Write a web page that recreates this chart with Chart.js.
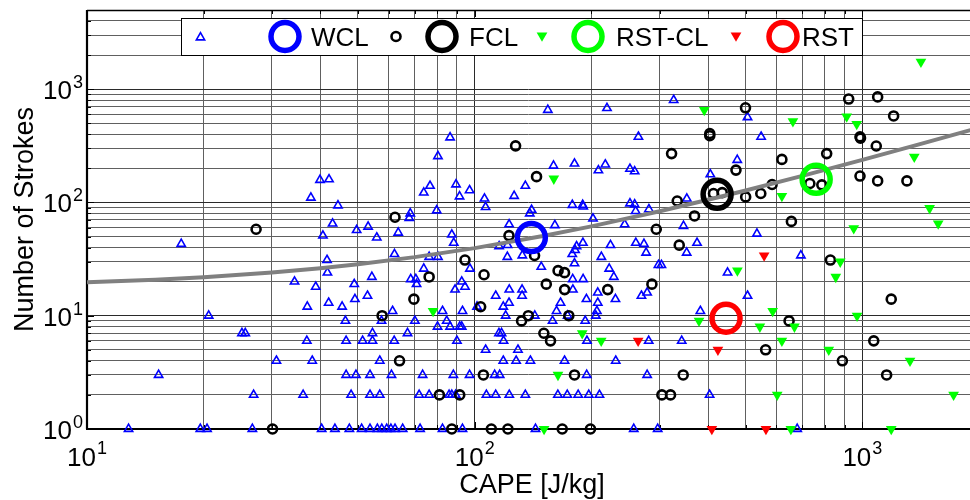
<!DOCTYPE html>
<html>
<head>
<meta charset="utf-8">
<script src="https://cdn.jsdelivr.net/npm/chart.js@4.4.1/dist/chart.umd.min.js"></script>
<style>
  html, body { margin: 0; padding: 0; background: #ffffff; overflow: hidden; }
  canvas { display: block; }
</style>
</head>
<body>
<canvas id="c" width="970" height="500"></canvas>
<script>
// ---- Individual storms: CAPE [J/kg] and number of strokes ----
const wclCape = [
  12.8, 15.3, 17.5, 19.6, 20.4, 20.6, 25.1, 25.6, 26.7, 26.9,
  30.8, 36.1, 38.1, 36.9, 37.0, 34.3, 38.9, 41.7, 41.6, 42.0,
  40.3, 43.6, 47.5, 45.5, 46.4, 46.6, 46.6, 48.0, 37.8, 39.9,
  42.1, 44.4, 43.0, 40.6, 86.4, 80.4, 76.7, 73.9, 89.5, 97.0,
  91.4, 106, 106.7, 68.2, 67.8, 79.8, 49.6, 53.1, 55.9, 63.5,
  62.1, 87.3, 88.3, 76.3, 80.4, 73.9, 97.2, 115.6, 54.3, 48.9,
  68.4, 70.5, 70.8, 92.6, 94.4, 89.0, 113.3, 52.9, 49.1, 61.4,
  82.6, 93.0, 101.4, 57.5, 70.1, 84.7, 80.2, 86.4, 91.5, 92.6,
  54.5, 67.1, 51.4, 54.5, 62.0, 90.0, 115.5, 106.7, 56.9, 49.4,
  53.7, 61.0, 73.4, 88.1, 97.0, 112.6, 116.0, 53.7, 56.9, 71.9,
  76.3, 85.9, 87.3, 89.3, 107.2, 113.3, 51.1, 53.7, 56.1, 57.6,
  59.3, 60.8, 62.3, 65.2, 72.3, 82.6, 93.0, 154.4, 219.4, 264.4,
  159.7, 180.9, 208.5, 217.2, 251.5, 258.6, 135.1, 126.4, 140.2, 138.7,
  178.6, 189.9, 190.5, 251.5, 258.6, 260.1, 281.4, 201.9, 161, 243.7,
  122.7, 121.6, 190.2, 183.1, 181.5, 178.5, 224, 260.4, 273.3, 212.2,
  276.8, 121.4, 132.7, 148.5, 180.9, 222.3, 228.5, 179, 190.4, 179.2,
  122.8, 132.5, 132.5, 122.6, 118.5, 120.2, 142.9, 166.5, 162.6, 158.8,
  194.2, 207.7, 230.7, 207.7, 206.6, 205.3, 192.8, 173.7, 269.2, 278.5,
  117.3, 118.7, 129.3, 194.8, 118.5, 127.9, 139.2, 170.5, 231.1, 194.5,
  278.5, 122.8, 135.1, 163.9, 173.3, 184.9, 196.9, 209.8, 143.5, 257.2,
  326, 505.5, 548, 475.6, 405.3, 352.5, 345.6, 534.6, 374.6, 352.2,
  297.8, 303.1, 694, 449, 505.5, 382, 281.1, 342, 403.6, 296.5,
  679
];
const wclStrokes = [
  1, 3, 43, 1, 1, 10, 7, 7, 1, 2,
  4, 2, 4, 6, 12, 20, 18, 24, 31, 13,
  1, 1, 1, 12, 9, 6, 3, 2, 110, 158,
  160, 94, 65, 51, 375, 256, 140, 122, 144, 128,
  113, 108, 91, 80, 73, 85, 57, 61, 49, 54,
  35, 52, 44, 33, 33, 26, 26, 41, 22, 19,
  21, 21, 19, 20, 18, 17, 15, 15, 14, 11,
  11, 11, 12, 9, 9, 9, 8, 8, 8, 8,
  7, 7, 6, 6, 6, 6, 7, 5, 4, 3,
  3, 3, 3, 3, 3, 3, 3, 2, 2, 2,
  2, 2, 2, 2, 2, 2, 1, 1, 1, 1,
  1, 1, 1, 1, 1, 1, 1, 655, 680, 380,
  211, 220, 192, 216, 198, 188, 140, 114, 86, 80,
  95, 95, 92, 98, 96, 84, 87, 72, 63, 64,
  64, 42, 44, 41, 38, 35, 42, 44, 43, 33,
  36, 33, 34, 27, 29, 26, 22, 21, 21, 17,
  17, 17, 15, 13, 12, 10, 10, 13, 11, 9,
  14, 16, 14, 13, 11, 10, 9, 10, 15, 16,
  7, 6, 5, 6, 4, 4, 4, 4, 4, 3,
  3, 2, 2, 2, 2, 2, 2, 2, 1, 1,
  802, 565, 380, 237, 177, 108, 62, 53, 44, 36,
  28, 28, 34, 24, 15, 11, 6, 6, 2, 1,
  1
];

const fclCape = [
  27.3, 30.1, 62.3, 94.4, 105.7, 127.5, 144.4, 122.6, 142.7, 76.3,
  69.7, 57.7, 103.6, 64.0, 105.3, 81.1, 91.5, 87.3, 110.4, 121.8,
  168.2, 198.9, 164.1, 170.5, 153, 170.6, 220.4, 286.5, 137.5, 132.1,
  174.9, 150.8, 156.9, 180.9, 499.5, 404, 404, 322, 472, 620,
  809, 922, 1095, 1204, 986, 989, 1086, 986, 1095, 1303,
  732, 786, 585, 547, 500, 413, 435, 333, 369, 294,
  337, 656, 827, 1187, 647, 1070, 563, 888, 345, 1155,
  304, 320
];
const fclStrokes = [
  58, 1, 74, 31, 23, 316, 169, 51, 34, 22,
  14, 10, 12, 4, 3, 2, 2, 1, 1, 1,
  1, 1, 25, 24, 19, 17, 17, 19, 10, 9,
  10, 7, 6, 3, 685, 406, 388, 270, 193, 240,
  270, 818, 855, 580, 380, 370, 315, 171, 155, 155,
  147, 143, 144, 120, 112, 120, 122, 103, 76, 58,
  42, 68, 31, 14, 9, 6, 5, 4, 3, 3,
  2, 2
];

const rstclCape = [
  160, 78.1, 189.4, 212, 164, 151, 391, 662, 911, 967,
  1416, 1361, 620, 1491, 1569, 950, 476, 877, 854, 969,
  587, 379, 544, 668, 620, 819, 1327, 603, 1719, 654,
  1187
];
const rstclStrokes = [
  162, 11, 7, 6, 3, 1, 655, 520, 573, 491,
  1744, 253, 114, 89, 65, 59, 25, 30, 22, 10,
  11, 9, 8, 8, 6, 5, 4, 2, 2, 1,
  1
];

const rstCape = [264, 558, 424, 409, 564];
const rstStrokes = [6, 34, 5, 1, 1];

// ---- Class means (WCL, FCL, RST-CL, RST) ----
const meanNames = ['WCL', 'FCL', 'RST-CL', 'RST'];
const meanCape = [140, 422, 760, 445];
const meanStrokes = [49, 118, 160, 9.5];
const meanColors = ['#0000ff', '#000000', '#00ff00', '#ff0000'];

// ---- Fitted relation between CAPE and stroke count ----
const fitCape = [10, 15, 20, 30, 40, 50, 70, 100, 150, 200, 300, 400, 500, 700, 1000, 1400, 1900];
const fitStrokes = [19.7, 20.8, 21.9, 24.1, 26.3, 28.5, 32.9, 39.5, 50.5, 61.5, 83.5, 105.5, 127.5, 171.5, 237.5, 325.5, 435.5];

// ---- Axis ranges and labelled decades ----
const xRange = [10, 1895];
const yRange = [1, 5000];
const xDecades = [1, 2, 3];
const yDecades = [0, 1, 2, 3];

const FONT = '"Liberation Sans", Arial, Helvetica, sans-serif';
const zip = (xs, ys) => xs.map((x, i) => ({ x: x, y: ys[i] }));
const isDecade = v => Math.abs(Math.log10(v) - Math.round(Math.log10(v))) < 1e-9;

// marker sizes
const TRI_R = 4.8, TRI_W = 1.6;
const DOT_R = 4.5, DOT_W = 2.6;
const DOWN_R = 6.2;
const BIG_R = 14, BIG_W = 5.5;

function logTicks(min, max) {
  const out = [];
  for (let e = Math.floor(Math.log10(min)); e <= Math.ceil(Math.log10(max)); e++) {
    for (let m = 1; m <= 9; m++) {
      const v = m * Math.pow(10, e);
      if (v >= min * 0.9999 && v <= max * 1.0001) out.push({ value: v });
    }
  }
  return out;
}

function triPath(ctx, x, y, r, down) {
  const s = down ? -1 : 1;
  const h = r * Math.sin(Math.PI / 3);
  ctx.beginPath();
  ctx.moveTo(x, y - s * r);
  ctx.lineTo(x + h, y + s * r / 2);
  ctx.lineTo(x - h, y + s * r / 2);
  ctx.closePath();
}
function ring(ctx, x, y, r, color, lw) {
  ctx.beginPath();
  ctx.arc(x, y, r, 0, Math.PI * 2);
  ctx.strokeStyle = color;
  ctx.lineWidth = lw;
  ctx.stroke();
}

// Box, inward tick marks and axis lines
const framePlugin = {
  id: 'frame',
  beforeDatasetsDraw(chart) {
    const { ctx, chartArea: a, scales } = chart;
    const xs = scales.x, ys = scales.y;
    ctx.save();
    ctx.strokeStyle = '#000';
    ctx.lineWidth = 1;
    logTicks(xRange[0], xRange[1]).forEach(t => {
      const px = Math.round(xs.getPixelForValue(t.value)) + 0.5;
      const len = isDecade(t.value) ? 7 : 4;
      ctx.beginPath();
      ctx.moveTo(px, a.top); ctx.lineTo(px, a.top + len);
      ctx.moveTo(px, a.bottom); ctx.lineTo(px, a.bottom - len);
      ctx.stroke();
    });
    logTicks(yRange[0], yRange[1]).forEach(t => {
      const py = Math.round(ys.getPixelForValue(t.value)) + 0.5;
      const len = isDecade(t.value) ? 7 : 4;
      ctx.beginPath();
      ctx.moveTo(a.left, py); ctx.lineTo(a.left + len, py);
      ctx.stroke();
    });
    ctx.lineWidth = 1.5;
    ctx.beginPath();
    ctx.moveTo(a.left, a.top + 0.5); ctx.lineTo(a.right, a.top + 0.5);
    ctx.stroke();
    ctx.lineWidth = 2.2;
    ctx.beginPath();
    ctx.moveTo(a.left, a.top); ctx.lineTo(a.left, a.bottom);
    ctx.moveTo(a.left - 1, a.bottom); ctx.lineTo(a.right, a.bottom);
    ctx.stroke();
    ctx.restore();
  }
};

// Power-of-ten tick labels, axis titles and the legend
const textPlugin = {
  id: 'texts',
  afterDraw(chart) {
    const { ctx, chartArea: a, scales } = chart;
    const xs = scales.x, ys = scales.y;
    ctx.save();
    ctx.fillStyle = '#000';
    ctx.textBaseline = 'alphabetic';
    const mainFont = '26px ' + FONT, supFont = '18px ' + FONT;

    yDecades.forEach(e => {
      const py = ys.getPixelForValue(Math.pow(10, e));
      ctx.font = mainFont; ctx.textAlign = 'right';
      ctx.fillText('10', 72, py + 10);
      ctx.font = supFont; ctx.textAlign = 'left';
      ctx.fillText(String(e), 73, py - 1);
    });
    xDecades.forEach(e => {
      const px = xs.getPixelForValue(Math.pow(10, e));
      ctx.font = mainFont;
      const w1 = ctx.measureText('10').width;
      ctx.font = supFont;
      const w2 = ctx.measureText(String(e)).width;
      const x0 = px - (w1 + w2 + 1) / 2;
      ctx.font = mainFont; ctx.textAlign = 'left';
      ctx.fillText('10', x0, a.bottom + 37);
      ctx.font = supFont;
      ctx.fillText(String(e), x0 + w1 + 1, a.bottom + 25);
    });

    ctx.font = '27px ' + FONT;
    ctx.textAlign = 'center';
    ctx.fillText('CAPE [J/kg]', 532, 492.5);
    ctx.save();
    ctx.translate(32.5, (a.top + a.bottom) / 2);
    ctx.rotate(-Math.PI / 2);
    ctx.fillText('Number of Strokes', 0, 0);
    ctx.restore();

    // legend
    const ly = 36.5;
    ctx.fillStyle = '#fff';
    ctx.fillRect(181, 18, 681, 37);
    ctx.strokeStyle = '#000';
    ctx.lineWidth = 1;
    ctx.strokeRect(181.5, 18.5, 681, 37);

    triPath(ctx, 200.5, ly + 1, TRI_R, false);
    ctx.strokeStyle = '#0000ff'; ctx.lineWidth = TRI_W; ctx.stroke();
    ring(ctx, 396, ly, DOT_R, '#000', DOT_W);
    triPath(ctx, 542, ly - 1, DOWN_R, true);
    ctx.fillStyle = '#00ff00'; ctx.fill();
    triPath(ctx, 736, ly - 1, DOWN_R, true);
    ctx.fillStyle = '#ff0000'; ctx.fill();

    const bigX = [285, 442, 588, 783];
    const txtX = [311, 469, 616, 802];
    ctx.font = '26px ' + FONT;
    ctx.textAlign = 'left';
    ctx.fillStyle = '#000';
    meanNames.forEach((n, i) => {
      ring(ctx, bigX[i], ly, BIG_R, meanColors[i], BIG_W);
      ctx.fillText(n, txtX[i], 46);
    });
    ctx.restore();
  }
};

const gridColor = c => (c.tick && isDecade(c.tick.value)) ? '#2a2a2a' : '#606060';

const datasets = [];
meanNames.forEach((n, i) => {
  datasets.push({
    label: n,
    data: [{ x: meanCape[i], y: meanStrokes[i] }],
    pointStyle: 'circle', pointRadius: BIG_R, pointBorderWidth: BIG_W,
    pointBorderColor: meanColors[i], pointBackgroundColor: 'rgba(0,0,0,0)',
    order: i, clip: false
  });
});
datasets.push({
  label: 'fit',
  data: zip(fitCape, fitStrokes),
  showLine: true, borderColor: '#808080', borderWidth: 4, pointRadius: 0,
  order: 5, clip: false
});
datasets.push({
  label: 'RST storms', data: zip(rstCape, rstStrokes),
  pointStyle: 'triangle', rotation: 180, pointRadius: DOWN_R, pointBorderWidth: 0,
  pointBackgroundColor: '#ff0000', pointBorderColor: '#ff0000',
  order: 6, clip: false
});
datasets.push({
  label: 'RST-CL storms', data: zip(rstclCape, rstclStrokes),
  pointStyle: 'triangle', rotation: 180, pointRadius: DOWN_R, pointBorderWidth: 0,
  pointBackgroundColor: '#00ff00', pointBorderColor: '#00ff00',
  order: 7, clip: false
});
datasets.push({
  label: 'FCL storms', data: zip(fclCape, fclStrokes),
  pointStyle: 'circle', pointRadius: DOT_R, pointBorderWidth: DOT_W,
  pointBorderColor: '#000000', pointBackgroundColor: 'rgba(0,0,0,0)',
  order: 8, clip: false
});
datasets.push({
  label: 'WCL storms', data: zip(wclCape, wclStrokes),
  pointStyle: 'triangle', pointRadius: TRI_R, pointBorderWidth: TRI_W,
  pointBorderColor: '#0000ff', pointBackgroundColor: 'rgba(0,0,0,0)',
  order: 9, clip: false
});

new Chart(document.getElementById('c'), {
  type: 'scatter',
  data: { datasets },
  options: {
    responsive: false,
    devicePixelRatio: 1,
    animation: false,
    events: [],
    layout: { autoPadding: false, padding: { left: 87, top: 10, right: 0, bottom: 71 } },
    plugins: { legend: { display: false }, tooltip: { enabled: false } },
    scales: {
      x: {
        type: 'logarithmic', min: xRange[0], max: xRange[1],
        afterBuildTicks: s => { s.ticks = logTicks(xRange[0], xRange[1]); },
        ticks: { display: false },
        grid: { color: gridColor, lineWidth: 1, drawTicks: false },
        border: { display: false },
        title: { display: false }
      },
      y: {
        type: 'logarithmic', min: yRange[0], max: yRange[1],
        afterBuildTicks: s => { s.ticks = logTicks(yRange[0], yRange[1]); },
        ticks: { display: false },
        grid: { color: gridColor, lineWidth: 1, drawTicks: false },
        border: { display: false },
        title: { display: false }
      }
    }
  },
  plugins: [framePlugin, textPlugin]
});
</script>
</body>
</html>
